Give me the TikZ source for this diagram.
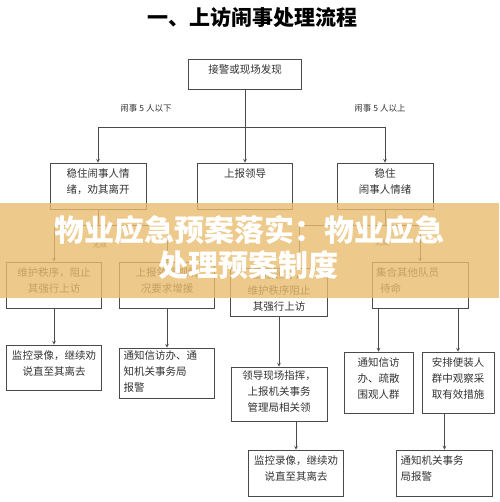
\documentclass[tikz,border=0pt]{standalone}
\usepackage{fontspec}
\setmainfont{Noto Sans CJK SC}

\definecolor{linegray}{HTML}{4A4A4A}
\definecolor{textgray}{HTML}{333333}
\definecolor{bandorange}{RGB}{232,188,110}

\newcommand{\boxtxt}[3]{\parbox[c][#2][t]{#1}{\centering #3}}
\newcommand{\boxtxtl}[3]{\parbox[c][#2][t]{#1}{\raggedright #3}}

\tikzset{
  flowbox/.style={draw=linegray, line width=0.7pt, inner xsep=4pt, inner ysep=6pt,
    text=textgray, font=\fontsize{10.5}{16}\selectfont},
  flowline/.style={draw=linegray, line width=0.7pt},
  note/.style={text=textgray, font=\fontsize{8.5}{10}\selectfont},
}

\begin{document}
\begin{tikzpicture}[x=1pt,y=-1pt,>=stealth]
  \useasboundingbox (0,0) rectangle (499,502);
  \node[font=\bfseries\fontsize{21}{24}\selectfont] (title) at (252,17) {一、上访闹事处理流程};
  \node[flowbox] (alarm)    at (245,74)  {\boxtxt{105pt}{18pt}{接警或现场发现}};
  \node[flowbox] (calmL)    at (98,186)  {\boxtxt{88pt}{34pt}{稳住闹事人情\\绪，劝其离开}};
  \node[flowbox] (report)   at (245,186) {\boxtxt{87pt}{34pt}{上报领导}};
  \node[flowbox] (calmR)    at (385,186) {\boxtxt{88pt}{34pt}{稳住\\闹事人情绪}};
  \node[flowbox] (guardL)   at (54,285)  {\boxtxt{87pt}{34pt}{维护秩序，阻止\\其强行上访}};
  \node[flowbox] (askhelp)  at (167,285) {\boxtxt{87pt}{34pt}{上报领导视情\\况要求增援}};
  \node[flowbox, inner ysep=2pt] (guardM) at (279,292) {\boxtxt{89pt}{44pt}{上报领导，\\维护秩序阻止\\其强行上访}};
  \node[flowbox] (gather)   at (420,285) {\boxtxtl{88pt}{34pt}{集合其他队员\\\hspace*{4pt}待命}};
  \node[flowbox] (monitorL) at (54,367.5) {\boxtxt{87pt}{33pt}{监控录像，继续劝\\说直至其离去}};
  \node[flowbox, inner ysep=3pt] (notifyL) at (167,373) {\boxtxtl{87pt}{44pt}{通知信访办、通\\知机关事务局\\报警}};
  \node[flowbox, inner ysep=4pt] (command) at (279,394) {\boxtxt{88pt}{46pt}{领导现场指挥，\\上报机关事务\\管理局相关领}};
  \node[flowbox] (disperse) at (378.5,382.5) {\boxtxt{61pt}{49pt}{通知信访\\办、疏散\\围观人群}};
  \node[flowbox] (watch)    at (458,382.5) {\boxtxt{64pt}{49pt}{安排便装人\\群中观察采\\取有效措施}};
  \node[flowbox] (monitorM) at (296,473) {\boxtxt{87pt}{34pt}{监控录像，继续劝\\说直至其离去}};
  \node[flowbox] (notifyR)  at (444.5,473) {\boxtxtl{88pt}{34pt}{通知机关事务\\局报警}};
  \node[note] (few)  at (146,108) {闹事 5 人以下};
  \node[note] (many) at (380,108) {闹事 5 人以上};
  \node[note, font=\fontsize{7}{8}\selectfont] (failL) at (100,245) {无效};
  \node[note, font=\fontsize{7}{8}\selectfont] (failR) at (382,243) {无效};
  \coordinate (fork1) at (245,127);
  \coordinate (fork2) at (98,225);
  \coordinate (fork3) at (385,225);
  \draw[flowline] (alarm) -- (fork1);
  \draw[flowline,->] (fork1) -| (calmL);
  \draw[flowline,->] (fork1) -- (report);
  \draw[flowline,->] (fork1) -| (calmR);
  \draw[flowline] (calmL) -- (fork2);
  \draw[flowline,->] (fork2) -| (guardL);
  \draw[flowline,->] (fork2) -| (askhelp);
  \draw[flowline] (calmR) -- (fork3);
  \draw[flowline,->] (fork3) -| ([xshift=20pt]guardM.north);
  \draw[flowline,->] (fork3) -| (gather);
  \draw[flowline,->] (guardL) -- (monitorL);
  \draw[flowline,->] (askhelp) -- (notifyL);
  \draw[flowline,->] (guardM) -- (command);
  \draw[flowline,->] (command.south -| monitorM) -- (monitorM);
  \draw[flowline,->] (gather.south -| disperse) -- (disperse);
  \draw[flowline,->] (gather.south -| watch) -- (watch);
  \draw[flowline,->] (watch.south -| notifyR) -- (notifyR);
  % banner over the chart
  \fill[bandorange, fill opacity=0.8] (0,203) rectangle (499,298);
  \node[text=white, font=\bfseries\fontsize{30}{34}\selectfont] (banner1) at (249,230) {物业应急预案落实：物业应急};
  \node[text=white, font=\bfseries\fontsize{30}{34}\selectfont] (banner2) at (248,265) {处理预案制度};
\end{tikzpicture}
\end{document}
